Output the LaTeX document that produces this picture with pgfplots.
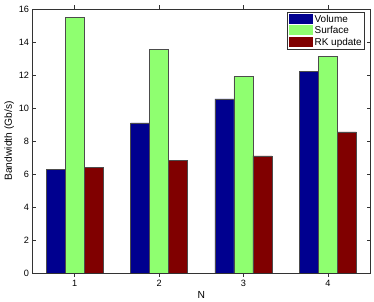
\documentclass[border=0pt]{standalone}
\usepackage{pgfplots}
\pgfplotsset{compat=1.18}
\usepackage{fontspec}
\setmainfont{Liberation Sans}
\definecolor{vol}{rgb}{0,0,0.5625}
\definecolor{surf}{rgb}{0.5625,1,0.4375}
\definecolor{rk}{rgb}{0.5,0,0}
\begin{document}
\begin{tikzpicture}
\begin{axis}[
  scale only axis,
  width=337.5bp, height=264bp,
  xmin=0.5, xmax=4.5, ymin=0, ymax=16,
  xtick={1,2,3,4}, ytick={0,2,...,16},
  tick align=inside, tick pos=both,
  major tick length=3.5bp,
  axis line style={black!80, line width=0.5bp},
  tick style={black!80, line width=0.5bp},
  /pgf/number format/assume math mode=true,
  ticklabel style={font=\fontsize{9.2}{10}\selectfont},
  xlabel={N}, ylabel={Bandwidth (Gb/s)},
  label style={font=\fontsize{10.3}{11}\selectfont},
  xlabel style={at={(axis description cs:0.5,-0.085)}, anchor=center},
  ylabel style={at={(axis description cs:-0.069,0.5)}, anchor=center},
  ybar, bar width=0.225,
  legend style={at={(0.985,0.988)}, anchor=north east, font=\fontsize{10}{10}\selectfont,
    draw=black!80, line width=0.5bp, inner sep=1bp, row sep=-1.5bp, cells={anchor=west}},
  legend image code/.code={\draw[#1, draw=none] (0bp,-4.5bp) rectangle (24bp,5.5bp);},
]
\addplot[fill=vol, draw=black!70, line width=0.4bp, bar shift=-0.225] coordinates {(1,6.3) (2,9.1) (3,10.55) (4,12.2)};
\addplot[fill=surf, draw=black!70, line width=0.4bp, bar shift=0] coordinates {(1,15.5) (2,13.55) (3,11.9) (4,13.15)};
\addplot[fill=rk, draw=black!70, line width=0.4bp, bar shift=0.225] coordinates {(1,6.42) (2,6.83) (3,7.1) (4,8.56)};
\legend{Volume, Surface, RK update}
\end{axis}
\pgfresetboundingbox
\path ([shift={(-32.5bp,-29bp)}]current axis.south west) rectangle ([shift={(4bp,9bp)}]current axis.north east);
\end{tikzpicture}
\end{document}
